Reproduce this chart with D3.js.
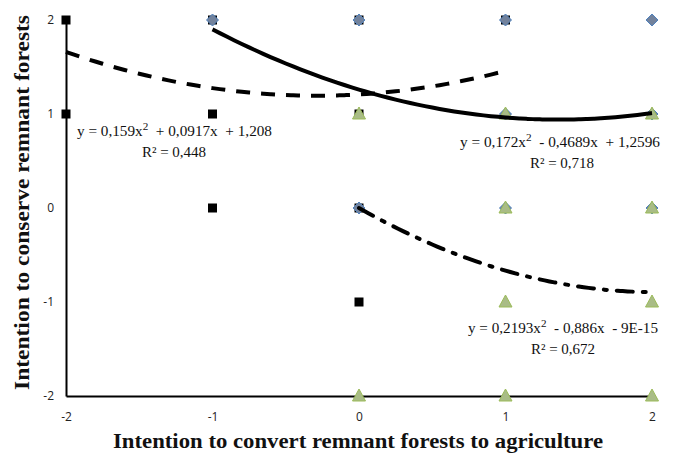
<!DOCTYPE html>
<html><head><meta charset="utf-8">
<script src="https://cdn.jsdelivr.net/npm/d3@7"></script>
<style>body{margin:0;background:#fff} text{white-space:pre}</style>
</head><body>
<svg id="c" width="674" height="455"></svg>
<script>
const xTicks = [-2,-1,0,1,2];
const yTicks = [-2,-1,0,1,2];
// series: black squares
const sqX = [-2,-2,-1,-1,-1,0,0,0,0,1];
const sqY = [2,1,2,1,0,2,1,0,-1,2];
// series: blue-grey diamonds
const diX = [-1,0,1,2,1,2,0,1,2];
const diY = [2,2,2,2,1,1,0,0,0];
// series: green triangles
const trX = [0,1,2,1,2,1,2,0,1,2];
const trY = [1,1,1,0,0,-1,-1,-2,-2,-2];
// polynomial trendlines [a,b,c] for y = a x^2 + b x + c, with x range
const fitSq = {coef:[0.159,0.0917,1.208], range:[-2,1], eq:["y = 0,159x","2","  + 0,0917x  + 1,208"], r2:"R² = 0,448"};
const fitDi = {coef:[0.172,-0.4689,1.2596], range:[-1,2], eq:["y = 0,172x","2","  - 0,4689x  + 1,2596"], r2:"R² = 0,718"};
const fitTr = {coef:[0.2193,-0.886,-9e-15], range:[0,2], eq:["y = 0,2193x","2","  - 0,886x  - 9E-15"], r2:"R² = 0,672"};

const svg = d3.select("#c");
const x = d3.scaleLinear().domain([-2,2]).range([66,652]);
const y = d3.scaleLinear().domain([-2,2]).range([396,20]);

// axes
const xAxis = d3.axisBottom(x).tickValues(xTicks).tickSize(0).tickPadding(16).tickFormat(d=>String(d));
const yAxis = d3.axisLeft(y).tickValues(yTicks).tickSize(0).tickPadding(12).tickFormat(d=>String(d));
const gx = svg.append("g").attr("transform","translate(0,396)").call(xAxis);
const gy = svg.append("g").attr("transform","translate(66,0)").call(yAxis);
[gx,gy].forEach(g=>{
  g.select(".domain").attr("stroke","#000").attr("stroke-width",2);
  g.selectAll("text").attr("font-family","'Open Sans', 'Liberation Sans', sans-serif").attr("font-size",12).attr("fill","#222");
});

// markers
svg.append("g").selectAll("rect").data(sqX.map((d,i)=>[d,sqY[i]])).join("rect")
  .attr("x",d=>x(d[0])-4.5).attr("y",d=>y(d[1])-4.5).attr("width",9).attr("height",9).attr("fill","#000");
svg.append("g").selectAll("path").data(diX.map((d,i)=>[d,diY[i]])).join("path")
  .attr("d",d=>`M${x(d[0])},${y(d[1])-6}L${x(d[0])+6},${y(d[1])}L${x(d[0])},${y(d[1])+6}L${x(d[0])-6},${y(d[1])}Z`)
  .attr("fill","#72829c").attr("stroke","#4f81bd").attr("stroke-width",1);
svg.append("g").selectAll("path").data(trX.map((d,i)=>[d,trY[i]])).join("path")
  .attr("d",d=>`M${x(d[0])},${y(d[1])-7}L${x(d[0])+6.5},${y(d[1])+5}L${x(d[0])-6.5},${y(d[1])+5}Z`)
  .attr("fill","#a9bc86").attr("stroke","#9bbb59").attr("stroke-width",1);

// trendlines
function curvePts(f){
  const n=60, pts=[];
  for(let i=0;i<=n;i++){const t=f.range[0]+(f.range[1]-f.range[0])*i/n; pts.push([t,f.coef[0]*t*t+f.coef[1]*t+f.coef[2]]);}
  return pts;
}
const line = d3.line().x(d=>x(d[0])).y(d=>y(d[1])).curve(d3.curveBasis);
svg.append("path").attr("d",line(curvePts(fitSq))).attr("fill","none").attr("stroke","#000").attr("stroke-width",4).attr("stroke-dasharray","14,11");
svg.append("path").attr("d",line(curvePts(fitDi))).attr("fill","none").attr("stroke","#000").attr("stroke-width",4);
svg.append("path").attr("d",line(curvePts(fitTr))).attr("fill","none").attr("stroke","#000").attr("stroke-width",4).attr("stroke-dasharray","16,10,3,10").attr("stroke-linecap","round");

// equation labels
const serif = "'Liberation Serif','Times New Roman',serif";
function eqLabel(f, x0, x1, yy, rc){
  const t = svg.append("text").attr("x",x0).attr("y",yy).attr("font-family",serif).attr("font-size",15).attr("fill","#111")
    .attr("textLength",x1-x0).attr("lengthAdjust","spacingAndGlyphs");
  t.append("tspan").text(f.eq[0]);
  t.append("tspan").attr("dy",-6).attr("font-size",11).text(f.eq[1]);
  t.append("tspan").attr("dy",6).text(f.eq[2]);
  svg.append("text").attr("x",rc).attr("y",yy+21).attr("text-anchor","middle").attr("font-family",serif).attr("font-size",15).attr("fill","#111").text(f.r2);
}
eqLabel(fitSq, 77, 272, 136, 174);
eqLabel(fitDi, 460, 660, 147, 562);
eqLabel(fitTr, 468, 658, 333, 563);

// axis titles
svg.append("text").attr("x",113).attr("y",448).attr("font-family",serif).attr("font-weight","bold").attr("font-size",22).attr("fill","#111")
  .attr("textLength",490).attr("lengthAdjust","spacingAndGlyphs")
  .text("Intention to convert remnant forests to agriculture");
svg.append("text").attr("transform","translate(29,390) rotate(-90)").attr("font-family",serif).attr("font-weight","bold").attr("font-size",22).attr("fill","#111")
  .attr("textLength",375).attr("lengthAdjust","spacingAndGlyphs")
  .text("Intention to conserve remnant forests");
</script>
</body></html>
